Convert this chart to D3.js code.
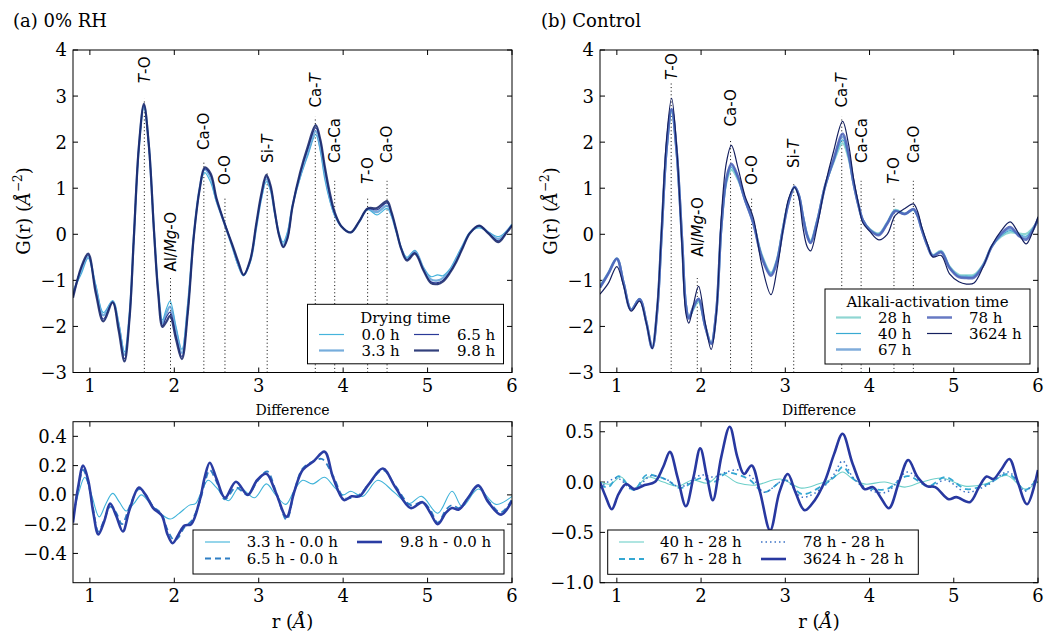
<!DOCTYPE html>
<html><head><meta charset="utf-8">
<script src="https://cdn.jsdelivr.net/npm/d3@7"></script>
<style>body{margin:0;background:#fff}svg text{font-family:"DejaVu Serif",serif;fill:#000}</style>
</head><body><svg id="c" width="1045" height="635"></svg>
<script>
// ---------------- DATA ----------------
const xTickVals = [1, 2, 3, 4, 5, 6];
const yTicksTop = [-3, -2, -1, 0, 1, 2, 3, 4];
const yTicksDiffA = [-0.4, -0.2, 0.0, 0.2, 0.4];
const yTicksDiffB = [-1.0, -0.5, 0.0, 0.5];

// (a) 0% RH  -- G(r) vs r
const rA = [0.80,0.90,0.98,1.07,1.16,1.27,1.34,1.41,1.47,1.52,1.58,1.64,1.70,1.76,1.81,1.86,1.905,1.95,2.02,2.09,2.16,2.23,2.30,2.36,2.43,2.50,2.60,2.69,2.76,2.82,2.90,2.97,3.03,3.09,3.14,3.19,3.24,3.29,3.34,3.40,3.49,3.58,3.675,3.73,3.78,3.84,3.90,3.98,4.09,4.19,4.29,4.40,4.52,4.57,4.63,4.69,4.755,4.85,4.95,5.04,5.12,5.18,5.26,5.34,5.42,5.50,5.61,5.72,5.84,5.93,6.00];
const gA00 = [-1.22,-0.85,-0.52,-1.10,-1.70,-1.44,-1.90,-2.55,-1.70,-0.10, 1.85,2.77,1.88,0.08,-1.20,-1.86,-1.62,-1.45,-2.00,-2.50, -1.50,-0.02,1.00,1.34,1.13,0.70,0.22,-0.30,-0.70,-0.90, -0.60,0.12,0.75,1.14,0.95,0.45,0.02,-0.17,0.05,0.62, 1.22,1.70,2.16,1.80,1.22,0.74,0.40,0.17,0.04,0.27, 0.54,0.42,0.56,0.40,0.05,-0.30,-0.50,-0.35,-0.72,-0.92, -0.88,-0.90,-0.76,-0.50,-0.22,0.04,0.14,0.05,-0.05,0.06,0.22];
const gA33 = [-1.30,-0.77,-0.49,-1.16,-1.76,-1.46,-1.96,-2.62,-1.74,-0.10, 1.87,2.79,1.89,0.07,-1.23,-1.93,-1.72,-1.57,-2.09,-2.58, -1.57,-0.03,1.00,1.41,1.23,0.73,0.20,-0.28,-0.67,-0.89, -0.58,0.15,0.80,1.20,0.99,0.47,0.01,-0.23,-0.02,0.62, 1.26,1.77,2.24,1.89,1.34,0.80,0.43,0.17,0.04,0.27, 0.55,0.48,0.62,0.44,0.06,-0.31,-0.53,-0.37,-0.73,-0.98, -1.00,-0.95,-0.80,-0.54,-0.24,0.03,0.17,0.04,-0.10,0.05,0.21];
const gA65 = [-1.33,-0.72,-0.45,-1.24,-1.84,-1.47,-2.03,-2.70,-1.79,-0.10, 1.88,2.81,1.89,0.06,-1.27,-1.98,-1.80,-1.69,-2.20,-2.66, -1.68,-0.05,0.98,1.42,1.29,0.76,0.22,-0.26,-0.64,-0.88, -0.56,0.20,0.83,1.25,1.03,0.49,-0.01,-0.27,-0.10,0.61, 1.31,1.85,2.31,2.02,1.46,0.86,0.45,0.17,0.04,0.28, 0.55,0.53,0.68,0.47,0.08,-0.32,-0.55,-0.40,-0.77,-1.03, -1.05,-1.00,-0.83,-0.58,-0.27,0.03,0.19,0.03,-0.14,0.03,0.20];
const gA98 = [-1.38,-0.70,-0.42,-1.28,-1.89,-1.48,-2.08,-2.76,-1.82,-0.10, 1.90,2.83,1.90,0.05,-1.30,-2.01,-1.90,-1.77,-2.28,-2.71, -1.70,-0.06,0.97,1.45,1.32,0.78,0.21,-0.24,-0.61,-0.88, -0.55,0.22,0.87,1.29,1.06,0.50,-0.02,-0.28,-0.09,0.60, 1.34,1.90,2.37,2.05,1.50,0.92,0.48,0.17,0.04,0.28, 0.56,0.57,0.72,0.50,0.09,-0.33,-0.57,-0.42,-0.78,-1.06, -1.08,-1.03,-0.85,-0.60,-0.28,0.02,0.19,0.02,-0.17,0.02,0.19];
const namesA = ["0.0 h", "3.3 h", "6.5 h", "9.8 h"];

// (b) Control -- G(r) vs r
const rB = [0.80,0.90,1.00,1.08,1.17,1.27,1.35,1.42,1.48,1.53,1.59,1.65,1.71,1.775,1.82,1.855,1.91,1.97,2.05,2.12,2.18,2.24,2.30,2.36,2.44,2.52,2.62,2.72,2.83,2.90,2.97,3.04,3.11,3.16,3.21,3.26,3.30,3.38,3.47,3.57,3.68,3.75,3.81,3.87,3.92,4.00,4.11,4.21,4.305,4.42,4.52,4.57,4.62,4.69,4.75,4.85,4.95,5.06,5.15,5.24,5.35,5.45,5.56,5.67,5.77,5.86,5.93,6.00];
const gB28 = [-1.12,-0.83,-0.52,-1.05,-1.63,-1.40,-1.90,-2.46,-1.62,-0.05, 1.82,2.66,1.78,-0.15,-1.52,-1.80,-1.62,-1.46,-2.00,-2.36, -1.70,0.12,1.12,1.40,1.18,0.76,0.26,-0.44,-0.83,-0.55, 0.12,0.72,1.02,0.85,0.40,0.00,-0.14,0.32,1.03,1.55, 1.98,1.65,1.10,0.62,0.31,0.12,0.02,0.26,0.53,0.45, 0.53,0.40,0.12,-0.25,-0.45,-0.36,-0.70,-0.88,-0.89,-0.88, -0.65,-0.27,-0.05,0.04,0.02,0.01,0.12,0.28];
const gB40 = [-1.14,-0.84,-0.52,-1.05,-1.64,-1.40,-1.90,-2.47,-1.62,-0.04, 1.84,2.69,1.79,-0.15,-1.53,-1.81,-1.60,-1.43,-2.00,-2.37, -1.70,0.14,1.15,1.45,1.20,0.76,0.25,-0.46,-0.85,-0.57, 0.10,0.71,1.03,0.85,0.39,-0.02,-0.16,0.30,1.03,1.57, 2.05,1.69,1.11,0.62,0.31,0.11,0.01,0.25,0.52,0.44, 0.53,0.40,0.11,-0.25,-0.46,-0.37,-0.71,-0.90,-0.91,-0.90, -0.66,-0.27,-0.03,0.08,0.00,-0.04,0.10,0.30];
const gB67 = [-1.15,-0.85,-0.53,-1.06,-1.64,-1.41,-1.91,-2.47,-1.63,-0.04, 1.85,2.71,1.80,-0.15,-1.54,-1.82,-1.58,-1.41,-2.00,-2.37, -1.70,0.15,1.18,1.50,1.22,0.76,0.24,-0.48,-0.87,-0.58, 0.09,0.70,1.03,0.85,0.38,-0.03,-0.18,0.29,1.03,1.59, 2.12,1.72,1.11,0.62,0.31,0.10,0.00,0.24,0.51,0.44, 0.54,0.40,0.10,-0.26,-0.47,-0.38,-0.72,-0.91,-0.93,-0.92, -0.67,-0.27,-0.01,0.12,-0.02,-0.08,0.08,0.32];
const gB78 = [-1.16,-0.85,-0.53,-1.06,-1.64,-1.41,-1.91,-2.47,-1.63,-0.03, 1.86,2.72,1.81,-0.15,-1.55,-1.83,-1.57,-1.40,-2.01,-2.38, -1.70,0.16,1.20,1.53,1.24,0.76,0.24,-0.50,-0.90,-0.60, 0.08,0.70,1.03,0.85,0.37,-0.04,-0.19,0.28,1.03,1.60, 2.18,1.75,1.12,0.62,0.31,0.10,-0.02,0.23,0.50,0.44, 0.55,0.41,0.10,-0.26,-0.47,-0.39,-0.73,-0.93,-0.95,-0.94, -0.68,-0.27,0.01,0.16,-0.03,-0.12,0.06,0.33];
const gB3624 = [-1.30,-1.06,-0.70,-1.12,-1.67,-1.45,-1.93,-2.48,-1.56,0.07, 2.07,2.95,1.90,-0.30,-1.72,-1.93,-1.52,-1.13,-1.93,-2.50, -1.75,0.37,1.55,1.93,1.43,0.84,0.36,-0.66,-1.31,-0.78, 0.06,0.78,1.02,0.80,0.14,-0.27,-0.36,0.19,1.04,1.78, 2.45,1.96,1.22,0.65,0.25,0.07,-0.12,0.00,0.41,0.56, 0.66,0.50,0.16,-0.22,-0.49,-0.46,-0.86,-1.03,-1.08,-1.06, -0.70,-0.25,0.07,0.27,0.02,-0.21,0.02,0.38];
const namesB = ["28 h", "40 h", "67 h", "78 h", "3624 h"];

// Difference curves, panel (a)
const dA1r = [0.80,0.87,0.94,1.02,1.11,1.19,1.27,1.35,1.43,1.52,1.61,1.70,1.80,1.95,2.05,2.18,2.25,2.32,2.40,2.50,2.64,2.77,2.95,3.09,3.20,3.32,3.42,3.52,3.64,3.78,3.90,4.00,4.09,4.23,4.41,4.60,4.78,4.93,5.12,5.29,5.41,5.60,5.81,6.00];
const dA1v = [-0.15,0.02,0.12,0.00,-0.15,-0.06,0.01,-0.05,-0.11,-0.06,0.00,-0.05,-0.11,-0.165,-0.13,-0.07,-0.06,0.02,0.10,0.05,-0.04,0.05,-0.02,0.075,0.00,-0.065,0.03,0.10,0.075,0.12,0.05,0.00,0.025,-0.01,0.10,0.02,-0.06,-0.01,-0.125,0.025,-0.08,0.04,-0.065,-0.01];
const dA2r = [0.80,0.86,0.92,0.98,1.04,1.10,1.17,1.24,1.31,1.38,1.47,1.58,1.66,1.75,1.85,1.92,2.00,2.05,2.12,2.20,2.30,2.36,2.42,2.50,2.60,2.73,2.87,2.98,3.10,3.20,3.33,3.42,3.52,3.65,3.75,3.88,4.01,4.10,4.19,4.30,4.47,4.62,4.80,4.94,5.03,5.12,5.22,5.29,5.37,5.48,5.60,5.72,5.87,6.00];
const dA2v = [-0.17,0.04,0.17,0.08,-0.10,-0.25,-0.17,-0.08,-0.12,-0.20,-0.08,0.04,0.00,-0.08,-0.13,-0.24,-0.31,-0.29,-0.22,-0.18,-0.05,0.08,0.17,0.09,-0.03,0.05,0.00,0.09,0.16,0.03,-0.17,0.02,0.18,0.23,0.245,0.13,-0.02,-0.02,0.00,0.07,0.17,0.06,-0.07,-0.05,-0.10,-0.19,-0.10,-0.07,-0.09,-0.02,0.06,-0.04,-0.12,-0.03];
const dA3r = [0.80,0.86,0.92,0.98,1.04,1.10,1.17,1.24,1.31,1.39,1.47,1.58,1.66,1.75,1.85,1.92,1.98,2.05,2.12,2.20,2.30,2.36,2.42,2.50,2.60,2.73,2.87,2.98,3.09,3.20,3.33,3.42,3.52,3.65,3.78,3.88,4.01,4.10,4.19,4.30,4.47,4.62,4.80,4.94,5.03,5.12,5.22,5.29,5.37,5.48,5.60,5.72,5.87,6.00];
const dA3v = [-0.19,0.05,0.20,0.10,-0.12,-0.27,-0.18,-0.06,-0.14,-0.25,-0.10,0.05,0.00,-0.09,-0.14,-0.27,-0.33,-0.27,-0.21,-0.20,-0.04,0.12,0.22,0.11,-0.02,0.09,0.00,0.10,0.145,0.02,-0.15,0.02,0.17,0.23,0.295,0.12,-0.035,-0.01,-0.01,0.07,0.18,0.05,-0.09,-0.05,-0.12,-0.20,-0.12,-0.09,-0.10,-0.02,0.065,-0.05,-0.135,-0.04];
const namesDA = ["3.3 h - 0.0 h", "6.5 h - 0.0 h", "9.8 h - 0.0 h"];

// Difference curves, panel (b)
const dB1r = [0.80,0.92,1.05,1.19,1.37,1.55,1.73,1.90,2.08,2.24,2.44,2.64,2.94,3.19,3.39,3.55,3.68,3.80,3.95,4.18,4.42,4.62,4.86,5.13,5.37,5.63,5.85,6.00];
const dB1v = [0.00,-0.02,0.05,-0.07,0.05,0.00,-0.04,0.02,-0.01,0.08,-0.01,-0.03,0.03,-0.06,-0.02,0.03,0.10,0.03,-0.02,0.00,-0.05,0.00,0.04,-0.04,-0.02,0.065,-0.07,0.01];
const dB2r = [0.80,0.90,1.02,1.20,1.35,1.50,1.60,1.75,2.00,2.15,2.30,2.45,2.58,2.75,3.00,3.20,3.45,3.58,3.68,3.80,3.95,4.20,4.45,4.70,4.90,5.15,5.40,5.65,5.85,6.00];
const dB2v = [-0.03,-0.05,0.06,-0.08,0.07,0.05,0.02,-0.06,0.04,0.00,0.09,0.07,0.02,-0.10,0.02,-0.12,-0.03,0.05,0.15,0.04,-0.05,-0.07,0.06,-0.04,0.05,-0.07,-0.02,0.08,-0.08,0.05];
const dB3r = [0.80,1.00,1.20,1.40,1.60,1.75,2.00,2.15,2.30,2.45,2.60,2.75,3.00,3.20,3.45,3.58,3.68,3.80,3.95,4.20,4.45,4.70,4.90,5.15,5.40,5.65,5.85,6.00];
const dB3v = [-0.06,0.04,-0.08,0.06,0.02,-0.05,0.07,0.05,0.10,0.12,0.05,-0.10,0.02,-0.15,-0.05,0.08,0.21,0.05,-0.06,-0.10,0.10,-0.05,0.02,-0.10,-0.03,0.10,-0.09,0.08];
const dB4r = [0.80,0.87,0.94,1.02,1.11,1.21,1.33,1.45,1.55,1.63,1.72,1.82,1.91,1.99,2.07,2.14,2.24,2.34,2.43,2.51,2.60,2.70,2.82,2.93,3.03,3.12,3.23,3.35,3.47,3.58,3.68,3.80,3.94,4.04,4.13,4.23,4.35,4.46,4.57,4.68,4.78,4.94,5.03,5.19,5.30,5.39,5.47,5.56,5.66,5.76,5.87,6.00];
const dB4v = [0.00,-0.15,-0.27,-0.12,-0.02,-0.07,-0.03,0.00,0.15,0.30,0.05,-0.24,0.05,0.335,0.05,-0.18,0.25,0.55,0.25,0.08,0.165,-0.10,-0.48,-0.10,0.08,-0.10,-0.28,-0.18,0.01,0.28,0.48,0.18,-0.07,-0.05,-0.15,-0.26,0.00,0.22,0.05,-0.04,-0.05,-0.17,-0.15,-0.20,-0.05,0.055,0.03,0.12,0.23,0.00,-0.22,0.12];
const namesDB = ["40 h - 28 h", "67 h - 28 h", "78 h - 28 h", "3624 h - 28 h"];

// Peak assignments
const annoR = [1.645, 1.955, 2.35, 2.60, 3.10, 3.67, 3.90, 4.29, 4.52];
const annoText = ["T-O", "Al/Mg-O", "Ca-O", "O-O", "Si-T", "Ca-T", "Ca-Ca", "T-O", "Ca-O"];
const annoTopA = [2.94, -0.95, 1.61, 0.82, 1.37, 2.55, 1.16, 0.82, 1.16];
const annoLabA = [3.28, -0.81, 1.83, 1.07, 1.55, 2.75, 1.55, 1.09, 1.55];
const annoTopB = [3.28, -0.95, 2.05, 0.82, 1.14, 2.55, 1.16, 0.82, 1.16];
const annoLabB = [3.35, -0.49, 2.34, 1.07, 1.44, 2.75, 1.55, 1.09, 1.55];

// ---------------- DRAWING ----------------
const svg = d3.select("#c");
const panels = {
  A: {x: [73, 512], yTop: [372.5, 50], yDiff: [582.7, 421.7]},
  B: {x: [600, 1038], yTop: [372.5, 50], yDiff: [582.7, 421.7]}
};
const minus = s => s.replace("-", "\u2212");
const fmtInt = d => minus(String(d));
const fmt1 = d => minus(d.toFixed(1));

let clipId = 0;
function axesBox(x, y, yTicks, yFmt) {
  const [x0, x1] = x.range(), [yb, yt] = y.range();
  const g = svg.append("g");
  const tl = 5;
  xTickVals.forEach(t => {
    g.append("line").attr("x1", x(t)).attr("x2", x(t)).attr("y1", yb).attr("y2", yb - tl).attr("stroke", "#000");
    g.append("line").attr("x1", x(t)).attr("x2", x(t)).attr("y1", yt).attr("y2", yt + tl).attr("stroke", "#000");
    g.append("text").attr("x", x(t)).attr("y", yb + 19).attr("text-anchor", "middle").attr("font-size", 18).text(fmtInt(t));
  });
  yTicks.forEach(t => {
    g.append("line").attr("x1", x0).attr("x2", x0 + tl).attr("y1", y(t)).attr("y2", y(t)).attr("stroke", "#000");
    g.append("line").attr("x1", x1).attr("x2", x1 - tl).attr("y1", y(t)).attr("y2", y(t)).attr("stroke", "#000");
    g.append("text").attr("x", x0 - 6).attr("y", y(t)).attr("dy", "0.36em").attr("text-anchor", "end").attr("font-size", 18).text(yFmt(t));
  });
  const id = "clip" + (clipId++);
  svg.append("clipPath").attr("id", id).append("rect").attr("x", x0).attr("y", yt).attr("width", x1 - x0).attr("height", yb - yt);
  return id;
}
function frame(x, y) {
  const [x0, x1] = x.range(), [yb, yt] = y.range();
  svg.append("rect").attr("x", x0).attr("y", yt).attr("width", x1 - x0).attr("height", yb - yt)
    .attr("fill", "none").attr("stroke", "#000").attr("stroke-width", 1);
}
function drawSeries(clip, x, y, rs, vs, st) {
  const line = d3.line().x((d, i) => x(rs[i])).y(d => y(d)).curve(d3.curveCatmullRom.alpha(0.5));
  svg.append("path").attr("clip-path", `url(#${clip})`).attr("d", line(vs))
    .attr("fill", "none").attr("stroke", st.c).attr("stroke-width", st.w)
    .attr("stroke-opacity", st.o || 1).attr("stroke-dasharray", st.d || null)
    .attr("stroke-linejoin", "round");
}
function richText(sel, str) {
  str.split(/(\bT\b|Mg)/).forEach(p => {
    if (!p) return;
    sel.append("tspan").text(p).attr("font-style", (p === "T" || p === "Mg") ? "italic" : null);
  });
}
function annotate(x, y, tops, labs) {
  annoR.forEach((r, i) => {
    svg.append("line").attr("x1", x(r)).attr("x2", x(r)).attr("y1", y(-3)).attr("y2", y(tops[i]))
      .attr("stroke", "#000").attr("stroke-width", 1).attr("stroke-dasharray", "1,2.6");
    const t = svg.append("text").attr("transform", `translate(${x(r)},${y(labs[i])}) rotate(-90)`)
      .attr("dy", "0.36em").attr("font-size", 15).style("font-family", '"DejaVu Sans",sans-serif');
    richText(t, annoText[i]);
  });
}
function legend(box, title, entries) {
  const g = svg.append("g");
  g.append("rect").attr("x", box[0]).attr("y", box[1]).attr("width", box[2]).attr("height", box[3])
    .attr("fill", "#fff").attr("stroke", "#000").attr("stroke-width", 1);
  if (title) g.append("text").attr("x", box[0] + box[2] / 2).attr("y", title[1]).attr("text-anchor", "middle").attr("font-size", 15).text(title[0]);
  entries.forEach(e => {
    g.append("line").attr("x1", e.lx).attr("x2", e.lx + 25).attr("y1", e.y - 5).attr("y2", e.y - 5)
      .attr("stroke", e.st.c).attr("stroke-width", e.st.w).attr("stroke-opacity", e.st.o || 1).attr("stroke-dasharray", e.st.d || null);
    g.append("text").attr("x", e.tx).attr("y", e.y).attr("font-size", 15).text(e.name);
  });
}
function yLabel(xb, yc) {
  const t = svg.append("text").attr("transform", `translate(${xb},${yc}) rotate(-90)`).attr("text-anchor", "middle").attr("font-size", 18);
  t.append("tspan").text("G(r) (");
  t.append("tspan").attr("font-style", "italic").text("\u00C5");
  t.append("tspan").attr("font-size", 12).attr("dy", -8).text("\u22122");
  t.append("tspan").attr("dy", 8).text(")");
}
function xLabel(xc, yb) {
  const t = svg.append("text").attr("x", xc).attr("y", yb).attr("text-anchor", "middle").attr("font-size", 18);
  t.append("tspan").text("r (");
  t.append("tspan").attr("font-style", "italic").text("\u00C5");
  t.append("tspan").text(")");
}

// Styles
const stA = [
  {c: "#45b4dc", w: 1.2},
  {c: "#5e9fd6", w: 2.2, o: 0.85},
  {c: "#2a3a98", w: 1.2},
  {c: "#1c2b6e", w: 2.2, o: 0.9}
];
const stB = [
  {c: "#8fd6d2", w: 2.2},
  {c: "#38aad2", w: 1.2},
  {c: "#6a9ed4", w: 2.5, o: 0.85},
  {c: "#4c62b8", w: 2.5, o: 0.85},
  {c: "#15205f", w: 1.2}
];
const stDA = [
  {c: "#3fb3d9", w: 1.1},
  {c: "#2f7fc4", w: 1.8, d: "6,4"},
  {c: "#2a3da3", w: 2.6}
];
const stDB = [
  {c: "#6dcfc9", w: 1.1},
  {c: "#34a7d2", w: 1.8, d: "6,4"},
  {c: "#3c73c6", w: 1.5, d: "1.5,3"},
  {c: "#2838a0", w: 2.6}
];

// Panel (a)
{
  const p = panels.A;
  const x = d3.scaleLinear().domain([0.8, 6]).range(p.x);
  const y = d3.scaleLinear().domain([-3, 4]).range(p.yTop);
  const clip = axesBox(x, y, yTicksTop, fmtInt);
  annotate(x, y, annoTopA, annoLabA);
  [gA00, gA33, gA65, gA98].forEach((vs, i) => drawSeries(clip, x, y, rA, vs, stA[i]));
  frame(x, y);
  legend([307.5, 304.3, 196, 59.5], ["Drying time", 322.5], [
    {lx: 319, tx: 361.5, y: 339.5, name: namesA[0], st: stA[0]},
    {lx: 319, tx: 361.5, y: 355.5, name: namesA[1], st: stA[1]},
    {lx: 414, tx: 457, y: 339.5, name: namesA[2], st: stA[2]},
    {lx: 414, tx: 457, y: 355.5, name: namesA[3], st: stA[3]}
  ]);
  yLabel(29.5, 211);

  const yd = d3.scaleLinear().domain([-0.6, 0.5]).range(p.yDiff);
  const clip2 = axesBox(x, yd, yTicksDiffA, fmt1);
  [[dA1r, dA1v], [dA2r, dA2v], [dA3r, dA3v]].forEach((s, i) => drawSeries(clip2, x, yd, s[0], s[1], stDA[i]));
  frame(x, yd);
  legend([193, 530, 311, 44], null, [
    {lx: 205, tx: 246.7, y: 547, name: namesDA[0], st: stDA[0]},
    {lx: 205, tx: 246.7, y: 563.5, name: namesDA[1], st: stDA[1]},
    {lx: 357, tx: 400, y: 547, name: namesDA[2], st: stDA[2]}
  ]);
  svg.append("text").attr("x", 292.5).attr("y", 415).attr("text-anchor", "middle").attr("font-size", 14).text("Difference");
  xLabel(292.5, 628);
  svg.append("text").attr("x", 13).attr("y", 27).attr("font-size", 18).text("(a) 0% RH");
}

// Panel (b)
{
  const p = panels.B;
  const x = d3.scaleLinear().domain([0.8, 6]).range(p.x);
  const y = d3.scaleLinear().domain([-3, 4]).range(p.yTop);
  const clip = axesBox(x, y, yTicksTop, fmtInt);
  annotate(x, y, annoTopB, annoLabB);
  [gB28, gB40, gB67, gB78, gB3624].forEach((vs, i) => drawSeries(clip, x, y, rB, vs, stB[i]));
  frame(x, y);
  legend([825, 289, 205, 75], ["Alkali-activation time", 306.5], [
    {lx: 836, tx: 878, y: 322.5, name: namesB[0], st: stB[0]},
    {lx: 836, tx: 878, y: 338.5, name: namesB[1], st: stB[1]},
    {lx: 836, tx: 878, y: 354.5, name: namesB[2], st: stB[2]},
    {lx: 927, tx: 969, y: 322.5, name: namesB[3], st: stB[3]},
    {lx: 927, tx: 969, y: 338.5, name: namesB[4], st: stB[4]}
  ]);
  yLabel(556.5, 211);

  const yd = d3.scaleLinear().domain([-1.0, 0.6]).range(p.yDiff);
  const clip2 = axesBox(x, yd, yTicksDiffB, fmt1);
  [[dB1r, dB1v], [dB2r, dB2v], [dB3r, dB3v], [dB4r, dB4v]].forEach((s, i) => drawSeries(clip2, x, yd, s[0], s[1], stDB[i]));
  frame(x, yd);
  legend([607.7, 530, 310.6, 44.3], null, [
    {lx: 619, tx: 660, y: 547, name: namesDB[0], st: stDB[0]},
    {lx: 619, tx: 660, y: 564, name: namesDB[1], st: stDB[1]},
    {lx: 761, tx: 803, y: 547, name: namesDB[2], st: stDB[2]},
    {lx: 761, tx: 803, y: 564, name: namesDB[3], st: stDB[3]}
  ]);
  svg.append("text").attr("x", 819).attr("y", 415).attr("text-anchor", "middle").attr("font-size", 14).text("Difference");
  xLabel(819, 628);
  svg.append("text").attr("x", 541).attr("y", 27).attr("font-size", 18).text("(b) Control");
}
</script></body></html>
